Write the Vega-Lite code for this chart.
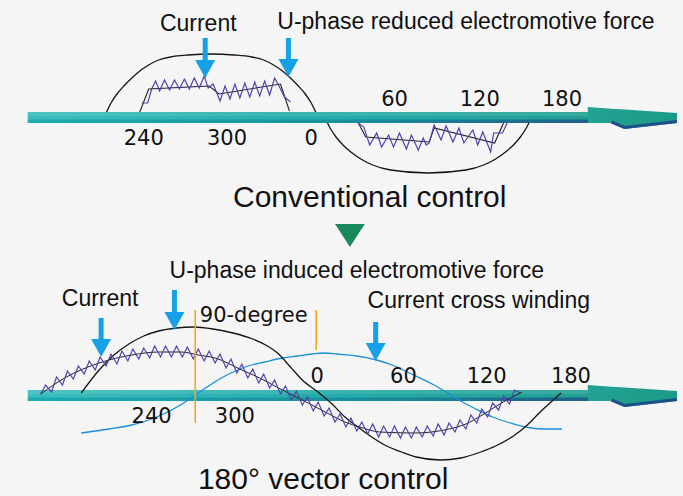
{
  "$schema": "https://vega.github.io/schema/vega-lite/v6.json",
  "width": 683,
  "height": 496,
  "padding": 0,
  "autosize": {"type": "fit", "contains": "padding"},
  "background": "#f5f5f6",
  "config": {"view": {"stroke": null}},
  "datasets": {
    "emfTop": [
      {"g":"a","x":105,"y":117},{"g":"a","x":108,"y":111},{"g":"a","x":112,"y":103},{"g":"a","x":118,"y":94},{"g":"a","x":125,"y":86},{"g":"a","x":133,"y":78},{"g":"a","x":141,"y":71},{"g":"a","x":150,"y":65},{"g":"a","x":160,"y":60},{"g":"a","x":172,"y":57},{"g":"a","x":190,"y":55},{"g":"a","x":213,"y":54},{"g":"a","x":236,"y":55},{"g":"a","x":254,"y":57},{"g":"a","x":266,"y":60},{"g":"a","x":276,"y":65},{"g":"a","x":285,"y":71},{"g":"a","x":293,"y":78},{"g":"a","x":301,"y":86},{"g":"a","x":308,"y":94},{"g":"a","x":314,"y":103},{"g":"a","x":318,"y":111},{"g":"a","x":321,"y":117},
      {"g":"b","x":326,"y":114},{"g":"b","x":329,"y":120},{"g":"b","x":333,"y":128},{"g":"b","x":339,"y":137},{"g":"b","x":346,"y":145},{"g":"b","x":354,"y":152},{"g":"b","x":364,"y":159},{"g":"b","x":376,"y":165},{"g":"b","x":394,"y":170},{"g":"b","x":432,"y":173},{"g":"b","x":470,"y":170},{"g":"b","x":488,"y":165},{"g":"b","x":500,"y":159},{"g":"b","x":510,"y":152},{"g":"b","x":518,"y":145},{"g":"b","x":525,"y":137},{"g":"b","x":531,"y":128},{"g":"b","x":535,"y":120},{"g":"b","x":538,"y":114}
    ],
    "trapTop": [
      {"g":"a","x":141,"y":112},{"g":"a","x":150,"y":89},{"g":"a","x":211,"y":86},{"g":"a","x":221,"y":94},{"g":"a","x":283,"y":84},{"g":"a","x":292,"y":111},
      {"g":"b","x":361,"y":122},{"g":"b","x":369,"y":137},{"g":"b","x":433,"y":142},{"g":"b","x":438,"y":128},{"g":"b","x":499,"y":143},{"g":"b","x":508,"y":123}
    ],
    "curTop": [
      {"g":"a","x":143,"y":103},{"g":"a","x":149,"y":103},{"g":"a","x":153,"y":89},{"g":"a","x":157,"y":81},{"g":"a","x":161,"y":91},{"g":"a","x":166,"y":80},{"g":"a","x":171,"y":90},{"g":"a","x":176,"y":80},{"g":"a","x":181,"y":89},{"g":"a","x":186,"y":79},{"g":"a","x":191,"y":89},{"g":"a","x":196,"y":78},{"g":"a","x":201,"y":88},{"g":"a","x":206,"y":76},{"g":"a","x":210,"y":88},{"g":"a","x":215,"y":84},{"g":"a","x":222,"y":101},{"g":"a","x":227,"y":86},{"g":"a","x":232,"y":99},{"g":"a","x":237,"y":84},{"g":"a","x":242,"y":98},{"g":"a","x":247,"y":83},{"g":"a","x":252,"y":97},{"g":"a","x":257,"y":82},{"g":"a","x":262,"y":96},{"g":"a","x":267,"y":81},{"g":"a","x":272,"y":95},{"g":"a","x":277,"y":78},{"g":"a","x":282,"y":87},{"g":"a","x":287,"y":97},{"g":"a","x":293,"y":102},
      {"g":"b","x":360,"y":122},{"g":"b","x":367,"y":127},{"g":"b","x":373,"y":145},{"g":"b","x":380,"y":133},{"g":"b","x":385,"y":147},{"g":"b","x":392,"y":135},{"g":"b","x":397,"y":147},{"g":"b","x":403,"y":133},{"g":"b","x":410,"y":149},{"g":"b","x":415,"y":135},{"g":"b","x":422,"y":150},{"g":"b","x":427,"y":138},{"g":"b","x":430,"y":145},{"g":"b","x":433,"y":143},{"g":"b","x":438,"y":125},{"g":"b","x":445,"y":140},{"g":"b","x":450,"y":126},{"g":"b","x":457,"y":142},{"g":"b","x":463,"y":128},{"g":"b","x":468,"y":143},{"g":"b","x":477,"y":130},{"g":"b","x":482,"y":145},{"g":"b","x":487,"y":132},{"g":"b","x":495,"y":152},{"g":"b","x":498,"y":133},{"g":"b","x":507,"y":133},{"g":"b","x":512,"y":122}
    ],
    "emfBot": [
      {"x":82,"y":393},{"x":100,"y":370},{"x":115,"y":355},{"x":130,"y":344},{"x":145,"y":336},{"x":160,"y":331},{"x":178,"y":328},{"x":195,"y":327},{"x":215,"y":329},{"x":235,"y":333},{"x":255,"y":339},{"x":268,"y":345},{"x":280,"y":353},{"x":293,"y":367},{"x":305,"y":380},{"x":322,"y":393},{"x":335,"y":404},{"x":348,"y":417},{"x":361,"y":427},{"x":375,"y":437},{"x":390,"y":446},{"x":405,"y":452},{"x":420,"y":457},{"x":444,"y":460},{"x":465,"y":458},{"x":485,"y":452},{"x":500,"y":446},{"x":518,"y":436},{"x":532,"y":425},{"x":544,"y":413},{"x":556,"y":402},{"x":566,"y":393}
    ],
    "blueBot": [
      {"x":82,"y":433},{"x":110,"y":429},{"x":133,"y":425},{"x":150,"y":420},{"x":167,"y":413},{"x":182,"y":405},{"x":197,"y":395},{"x":215,"y":383},{"x":233,"y":373},{"x":250,"y":366},{"x":267,"y":362},{"x":285,"y":358},{"x":300,"y":356},{"x":315,"y":354},{"x":327,"y":353},{"x":340,"y":354},{"x":360,"y":356},{"x":380,"y":360},{"x":398,"y":366},{"x":413,"y":373},{"x":436,"y":384},{"x":450,"y":392},{"x":463,"y":400},{"x":480,"y":409},{"x":497,"y":417},{"x":515,"y":423},{"x":530,"y":427},{"x":548,"y":429},{"x":567,"y":429}
    ],
    "baseBot": [
      {"x":41,"y":394},{"x":67,"y":377},{"x":100,"y":363},{"x":133,"y":355},{"x":160,"y":352},{"x":183,"y":352},{"x":200,"y":355},{"x":217,"y":358},{"x":244,"y":370},{"x":262,"y":378},{"x":279,"y":387},{"x":305,"y":400},{"x":330,"y":413},{"x":348,"y":422},{"x":363,"y":427},{"x":383,"y":432},{"x":418,"y":433},{"x":453,"y":429},{"x":470,"y":424},{"x":485,"y":416},{"x":501,"y":406},{"x":515,"y":398},{"x":527,"y":392}
    ],
    "curBot": [
      {"x":41,"y":394},{"x":46,"y":385},{"x":52,"y":392},{"x":57,"y":377},{"x":63,"y":385},{"x":68,"y":371},{"x":74,"y":379},{"x":79,"y":366},{"x":85,"y":374},{"x":90,"y":361},{"x":96,"y":370},{"x":101,"y":357},{"x":107,"y":366},{"x":112,"y":354},{"x":118,"y":364},{"x":123,"y":351},{"x":129,"y":361},{"x":134,"y":349},{"x":140,"y":359},{"x":145,"y":348},{"x":151,"y":358},{"x":156,"y":346},{"x":162,"y":357},{"x":167,"y":346},{"x":173,"y":357},{"x":178,"y":346},{"x":184,"y":357},{"x":189,"y":347},{"x":195,"y":359},{"x":200,"y":349},{"x":206,"y":361},{"x":211,"y":351},{"x":217,"y":363},{"x":222,"y":354},{"x":228,"y":368},{"x":233,"y":359},{"x":239,"y":373},{"x":244,"y":364},{"x":250,"y":378},{"x":255,"y":369},{"x":261,"y":383},{"x":266,"y":374},{"x":272,"y":388},{"x":277,"y":380},{"x":283,"y":394},{"x":288,"y":386},{"x":294,"y":400},{"x":299,"y":391},{"x":305,"y":405},{"x":310,"y":397},{"x":316,"y":411},{"x":321,"y":402},{"x":327,"y":416},{"x":332,"y":408},{"x":338,"y":422},{"x":343,"y":414},{"x":349,"y":427},{"x":354,"y":418},{"x":360,"y":431},{"x":365,"y":422},{"x":371,"y":434},{"x":376,"y":424},{"x":382,"y":437},{"x":387,"y":426},{"x":393,"y":437},{"x":398,"y":426},{"x":404,"y":438},{"x":409,"y":427},{"x":415,"y":438},{"x":420,"y":427},{"x":426,"y":437},{"x":431,"y":426},{"x":437,"y":436},{"x":442,"y":424},{"x":448,"y":435},{"x":453,"y":423},{"x":459,"y":432},{"x":464,"y":420},{"x":470,"y":429},{"x":475,"y":415},{"x":481,"y":423},{"x":486,"y":409},{"x":492,"y":417},{"x":497,"y":403},{"x":503,"y":410},{"x":508,"y":396},{"x":514,"y":404},{"x":519,"y":390},{"x":525,"y":393}
    ],
    "bars": [
      {"x":28,"x2":620,"y":112,"y2":123},
      {"x":28,"x2":620,"y":390,"y2":401}
    ],
    "highlight": [
      {"x":28,"x2":620,"y":112,"y2":116},
      {"x":28,"x2":620,"y":390,"y2":394}
    ],
    "shade": [
      {"x":28,"x2":620,"y":119.5,"y2":123},
      {"x":28,"x2":620,"y":397.5,"y2":401}
    ],
    "heads": [
      {"g":"a","x":593,"y":107,"y2":123},{"g":"a","x":617,"y":108.7,"y2":123},{"g":"a","x":630,"y":109.6,"y2":129},{"g":"a","x":683,"y":113,"y2":123},
      {"g":"b","x":593,"y":385,"y2":401},{"g":"b","x":617,"y":386.7,"y2":401},{"g":"b","x":630,"y":387.6,"y2":407},{"g":"b","x":683,"y":391,"y2":401}
    ],
    "edges": [
      {"g":"a","x":617,"y":122},{"g":"a","x":630,"y":127.5},{"g":"a","x":683,"y":121.5},
      {"g":"b","x":617,"y":400},{"g":"b","x":630,"y":405.5},{"g":"b","x":683,"y":399.5}
    ],
    "orange": [
      {"x":197,"y":310,"y2":423},
      {"x":319,"y":310,"y2":350}
    ],
    "arrows": [
      {"x":207,"y":38,"y2":62,"hy":69},
      {"x":291,"y":38,"y2":60,"hy":68},
      {"x":102,"y":318,"y2":342,"hy":348},
      {"x":176,"y":290,"y2":315,"hy":321},
      {"x":379,"y":322,"y2":345,"hy":352}
    ],
    "tri": [
      {"x":338,"y":224,"y2":224},{"x":353,"y":224,"y2":247},{"x":368,"y":224,"y2":224}
    ],
    "labels": [
      {"t":"Current","x":200,"y":31},
      {"t":"U-phase reduced electromotive force","x":470,"y":29},
      {"t":"U-phase induced electromotive force","x":360,"y":278},
      {"t":"Current","x":101,"y":306},
      {"t":"Current cross winding","x":483,"y":308}
    ],
    "nums": [
      {"t":"60","x":398,"y":106},{"t":"120","x":484,"y":106},{"t":"180","x":567,"y":106},
      {"t":"240","x":145,"y":145},{"t":"300","x":229,"y":145},{"t":"0","x":314,"y":145},
      {"t":"0","x":320,"y":383},{"t":"60","x":407,"y":383},{"t":"120","x":491,"y":383},{"t":"180","x":576,"y":383},
      {"t":"240","x":153,"y":423},{"t":"300","x":237,"y":423},
      {"t":"90-degree","x":256,"y":322}
    ],
    "titles": [
      {"t":"Conventional control","x":373,"y":207},
      {"t":"180° vector control","x":326,"y":489}
    ]
  },
  "encoding": {
    "x": {"field":"x","type":"quantitative","scale":{"domain":[0,683],"nice":false,"zero":false},"axis":null},
    "y": {"field":"y","type":"quantitative","scale":{"domain":[0,496],"nice":false,"zero":false,"reverse":true},"axis":null}
  },
  "layer": [
    {"data":{"name":"emfTop"},"mark":{"type":"line","interpolate":"monotone","color":"#151515","strokeWidth":1.3},"encoding":{"detail":{"field":"g"}}},
    {"data":{"name":"trapTop"},"mark":{"type":"line","color":"#222222","strokeWidth":1.1},"encoding":{"detail":{"field":"g"}}},
    {"data":{"name":"curTop"},"mark":{"type":"line","color":"#5540aa","strokeWidth":1.2},"encoding":{"detail":{"field":"g"}}},
    {"data":{"name":"bars"},"mark":{"type":"rect","fill":{"gradient":"linear","x1":0,"x2":1,"y1":0,"y2":0,"stops":[{"offset":0,"color":"#3bbdbd"},{"offset":0.5,"color":"#23acab"},{"offset":1,"color":"#219e90"}]}},"encoding":{"x2":{"field":"x2"},"y2":{"field":"y2"}}},
    {"data":{"name":"highlight"},"mark":{"type":"rect","fill":"#ffffff","fillOpacity":0.1},"encoding":{"x2":{"field":"x2"},"y2":{"field":"y2"}}},
    {"data":{"name":"shade"},"mark":{"type":"rect","fill":{"gradient":"linear","x1":0,"x2":1,"y1":0,"y2":0,"stops":[{"offset":0,"color":"rgba(10,160,165,0.6)"},{"offset":0.5,"color":"rgba(20,130,150,0.6)"},{"offset":1,"color":"rgba(29,84,136,0.95)"}]}},"encoding":{"x2":{"field":"x2"},"y2":{"field":"y2"}}},
    {"data":{"name":"heads"},"mark":{"type":"area","fill":{"gradient":"linear","x1":0,"x2":1,"y1":0,"y2":0,"stops":[{"offset":0,"color":"#22a293"},{"offset":1,"color":"#1c9a88"}]}},"encoding":{"y2":{"field":"y2"},"detail":{"field":"g"}}},
    {"data":{"name":"edges"},"mark":{"type":"line","color":"#1d4f88","strokeWidth":3},"encoding":{"detail":{"field":"g"}}},
    {"data":{"name":"blueBot"},"mark":{"type":"line","interpolate":"monotone","color":"#1a8fdb","strokeWidth":1.3}},
    {"data":{"name":"emfBot"},"mark":{"type":"line","interpolate":"monotone","color":"#151515","strokeWidth":1.3}},
    {"data":{"name":"baseBot"},"mark":{"type":"line","interpolate":"monotone","color":"#222222","strokeWidth":1}},
    {"data":{"name":"curBot"},"mark":{"type":"line","color":"#5540aa","strokeWidth":1.2}},
    {"data":{"name":"orange"},"mark":{"type":"rule","color":"#f6a51c","strokeWidth":1.6},"encoding":{"y2":{"field":"y2"}}},
    {"data":{"name":"arrows"},"mark":{"type":"rule","color":"#16a1e6","strokeWidth":5},"encoding":{"y2":{"field":"y2"}}},
    {"data":{"name":"arrows"},"mark":{"type":"point","shape":"M-1,-0.9L1,-0.9L0,0.9Z","size":400,"filled":true,"color":"#16a1e6","opacity":1,"strokeWidth":0},"encoding":{"y":{"field":"hy","type":"quantitative"}}},
    {"data":{"name":"tri"},"mark":{"type":"area","color":"#1a8a5c"},"encoding":{"y2":{"field":"y2"}}},
    {"data":{"name":"labels"},"mark":{"type":"text","font":"Liberation Sans","fontSize":23,"align":"center","baseline":"alphabetic","color":"#111111"},"encoding":{"text":{"field":"t"}}},
    {"data":{"name":"nums"},"mark":{"type":"text","font":"DejaVu Sans","fontSize":21,"align":"center","baseline":"alphabetic","color":"#111111"},"encoding":{"text":{"field":"t"}}},
    {"data":{"name":"titles"},"mark":{"type":"text","font":"Liberation Sans","fontSize":30,"align":"center","baseline":"alphabetic","color":"#111111"},"encoding":{"text":{"field":"t"}}}
  ]
}
